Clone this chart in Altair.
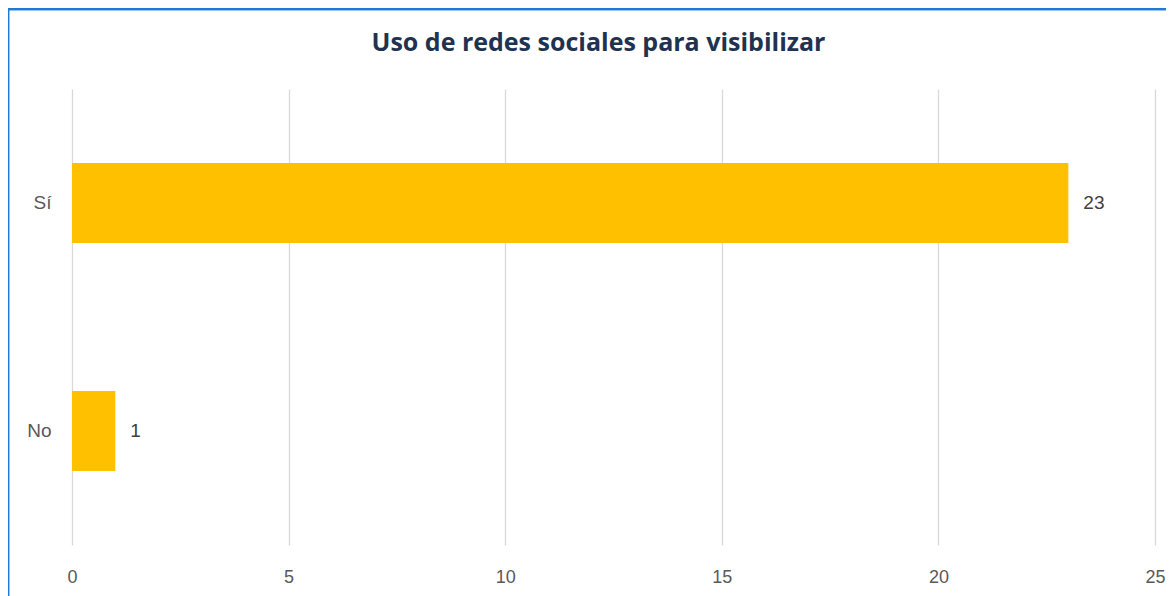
import altair as alt
import pandas as pd

categories = ["Sí", "No"]
values = [23, 1]

df = pd.DataFrame({"respuesta": categories, "cantidad": values})

W, H = 1083, 456

y_enc = alt.Y(
    "respuesta:N",
    sort=categories,
    scale=alt.Scale(paddingInner=0.65, paddingOuter=0.325),
    axis=alt.Axis(
        title=None, domain=False, ticks=False, labelPadding=21,
        labelFont="Liberation Sans", labelFontSize=19, labelColor="#595959",
    ),
)
x_enc = alt.X(
    "cantidad:Q",
    scale=alt.Scale(domain=[0, 25], nice=False),
    axis=alt.Axis(
        title=None, values=[0, 5, 10, 15, 20, 25], domain=False, ticks=False,
        grid=True, gridColor="#D9D9D9", gridWidth=1.3, labelPadding=23,
        labelFont="Liberation Sans", labelFontSize=18, labelColor="#595959",
        labelFlush=False,
    ),
)

base = alt.Chart(df)

border = base.mark_rect(fill=None, stroke="#1F7AD6", strokeWidth=2.5).encode(
    x=alt.value(-64), x2=alt.value(1300),
    y=alt.value(-80), y2=alt.value(700),
)

bars = base.mark_bar(color="#FFC000").encode(x=x_enc, y=y_enc)

labels = base.mark_text(
    align="left", baseline="middle", dx=15, font="Liberation Sans",
    fontSize=19, color="#404040",
).encode(x="cantidad:Q", y=alt.Y("respuesta:N", sort=categories), text="cantidad:Q")

chart = (
    alt.layer(bars, labels, border)
    .properties(
        width=W, height=H,
        title=alt.TitleParams(
            "Uso de redes sociales para visibilizar",
            font="Open Sans", fontSize=25, fontWeight="bold", color="#1F3350",
            anchor="middle", frame="group", baseline="alphabetic",
            dx=-15, offset=0, dy=68,
        ),
        autosize=alt.AutoSizeParams(type="none"),
        padding={"left": 64, "top": 81, "right": 11, "bottom": 51},
    )
    .configure_view(stroke=None)
)

chart.save("out.html", embed_options={"renderer": "svg", "actions": False})
